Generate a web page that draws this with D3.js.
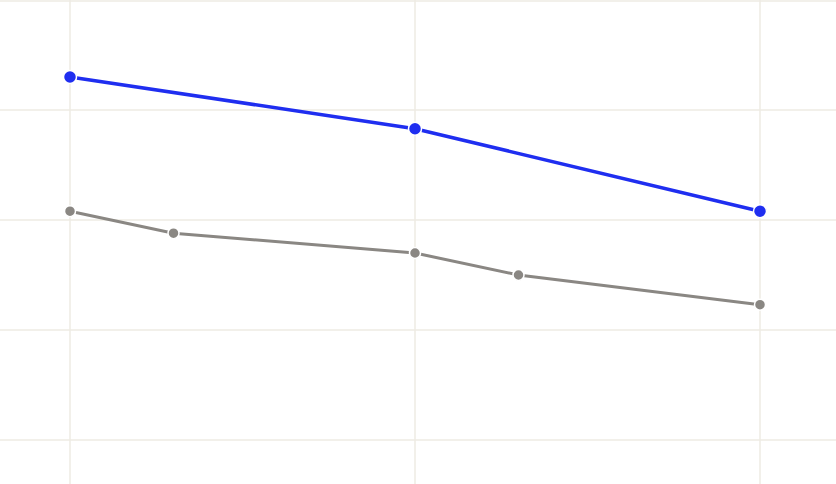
<!DOCTYPE html>
<html>
<head>
<meta charset="utf-8">
<script src="https://cdn.jsdelivr.net/npm/d3@7"></script>
<style>
  html, body { margin: 0; padding: 0; background: #fff; }
  svg { display: block; }
</style>
</head>
<body>
<svg id="chart"></svg>
<script>
// Data
const years = [2000, 2010, 2020];
const blueYears = [2000, 2010, 2020];
const blueValues = [33.0, 28.3, 20.8];
const grayYears = [2000, 2003, 2010, 2013, 2020];
const grayValues = [20.8, 18.8, 17.0, 15.0, 12.3];
const yTicks = [0, 10, 20, 30, 40];

var width = 836, height = 484;

var svg = d3.select('#chart')
  .attr('width', width)
  .attr('height', height);

var x = d3.scaleLinear().domain([2000, 2020]).range([70, 760]);
var y = d3.scaleLinear().domain([0, 40]).range([440, 0]);

// grid
svg.append('g')
  .selectAll('line')
  .data(yTicks)
  .join('line')
  .attr('x1', 0)
  .attr('x2', width)
  .attr('y1', d => Math.max(y(d), 1))
  .attr('y2', d => Math.max(y(d), 1))
  .attr('stroke', '#eeebe3')
  .attr('stroke-width', 1.5);

svg.append('g')
  .selectAll('line')
  .data(years)
  .join('line')
  .attr('x1', d => x(d))
  .attr('x2', d => x(d))
  .attr('y1', 0)
  .attr('y2', height)
  .attr('stroke', '#eeebe3')
  .attr('stroke-width', 1.5);

function drawSeries(xs, vs, color, lw, r) {
  var pts = xs.map((d, i) => ({x: d, v: vs[i]}));
  var line = d3.line().x(d => x(d.x)).y(d => y(d.v));
  svg.append('path')
    .datum(pts)
    .attr('d', line)
    .attr('fill', 'none')
    .attr('stroke', color)
    .attr('stroke-width', lw);
  svg.append('g')
    .selectAll('circle')
    .data(pts)
    .join('circle')
    .attr('cx', d => x(d.x))
    .attr('cy', d => y(d.v))
    .attr('r', r)
    .attr('fill', color)
    .attr('stroke', '#fff')
    .attr('stroke-width', 1.5);
}

drawSeries(grayYears, grayValues, '#8a8783', 3, 5.5);
drawSeries(blueYears, blueValues, '#1f2ef0', 3.5, 6.5);
</script>
</body>
</html>
